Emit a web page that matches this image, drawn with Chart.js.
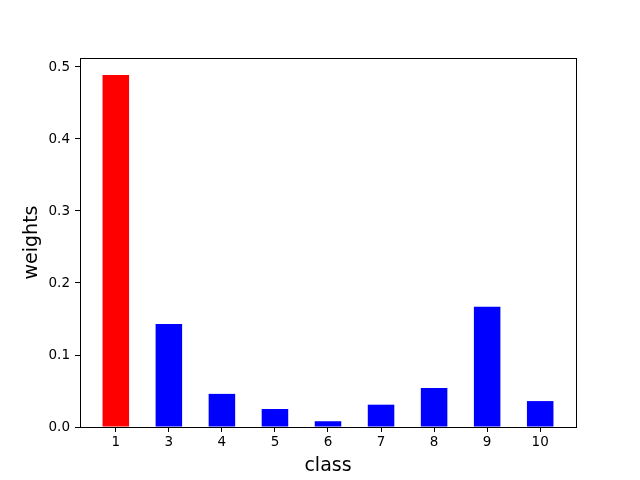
<!DOCTYPE html>
<html>
<head>
<meta charset="utf-8">
<script src="https://cdn.jsdelivr.net/npm/chart.js@4/dist/chart.umd.min.js"></script>
<style>
  body { margin: 0; background: #fff; }
  canvas { display: block; }
</style>
</head>
<body>
<canvas id="chart" width="640" height="480"></canvas>
<script>
const classLabels = ['1', '3', '4', '5', '6', '7', '8', '9', '10'];
const weights = [0.489, 0.143, 0.046, 0.025, 0.008, 0.031, 0.054, 0.167, 0.036];
const barColors = ['#ff0000', '#0000ff', '#0000ff', '#0000ff', '#0000ff', '#0000ff', '#0000ff', '#0000ff', '#0000ff'];
const yTicks = [0, 0.1, 0.2, 0.3, 0.4, 0.5];

const frame = {
  id: 'frame',
  afterDraw(chart) {
    const { ctx, chartArea: a } = chart;
    ctx.save();
    ctx.strokeStyle = '#000';
    ctx.lineWidth = 1;
    ctx.strokeRect(Math.round(a.left) + 0.5, Math.round(a.top) + 0.5,
      Math.round(a.right - a.left), Math.round(a.bottom - a.top));
    ctx.restore();
  }
};

const font = { family: 'DejaVu Sans', size: 13.5 };

new Chart(document.getElementById('chart').getContext('2d'), {
  type: 'bar',
  data: {
    datasets: [{
      data: weights.map((w, i) => ({ x: i, y: w })),
      backgroundColor: barColors,
      borderWidth: 0,
      categoryPercentage: 1,
      barPercentage: 0.5
    }]
  },
  options: {
    responsive: false,
    animation: false,
    layout: { padding: { top: 58, right: 64, left: 0, bottom: 0 } },
    plugins: { legend: { display: false }, tooltip: { enabled: false } },
    scales: {
      x: {
        type: 'linear',
        min: -0.675,
        max: 8.675,
        offset: false,
        afterFit: s => { s.height = 53; },
        afterBuildTicks: s => { s.ticks = classLabels.map((_, i) => ({ value: i })); },
        ticks: {
          color: '#000',
          font: font,
          padding: 2,
          maxRotation: 0,
          callback: v => classLabels[v]
        },
        grid: { offset: false, drawOnChartArea: false, color: '#000', tickLength: 5 },
        border: { display: false },
        title: { display: true, text: 'class', color: '#000', font: { family: 'DejaVu Sans', size: 19 }, padding: { top: 0, bottom: 3 } }
      },
      y: {
        min: 0,
        max: 0.5125,
        afterFit: s => { s.width = 80; },
        afterBuildTicks: s => { s.ticks = yTicks.map(v => ({ value: v })); },
        ticks: {
          color: '#000',
          font: font,
          padding: 5,
          callback: v => v.toFixed(1)
        },
        grid: { drawOnChartArea: false, color: '#000', tickLength: 5 },
        border: { display: false },
        title: { display: true, text: 'weights', color: '#000', font: { family: 'DejaVu Sans', size: 19 }, padding: { top: 21, bottom: 0 } }
      }
    }
  },
  plugins: [frame]
});
</script>
</body>
</html>
